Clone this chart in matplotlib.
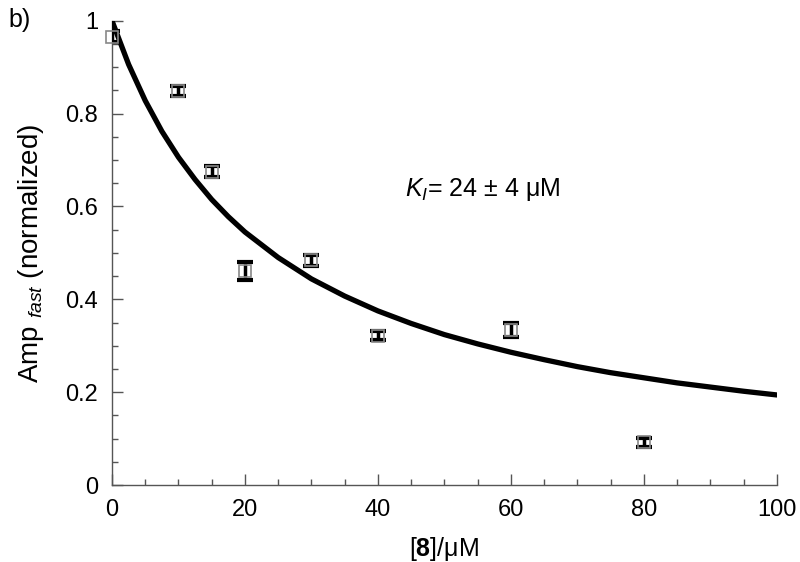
#!/usr/bin/env python3

import matplotlib
matplotlib.use("Agg")
import matplotlib.pyplot as plt
from matplotlib.ticker import MultipleLocator

plt.rcParams['font.family'] = ['Liberation Sans', 'DejaVu Sans']
plt.rcParams['mathtext.fontset'] = 'custom'
plt.rcParams['mathtext.rm'] = 'Liberation Sans'
plt.rcParams['mathtext.it'] = 'Liberation Sans:italic'
plt.rcParams['mathtext.bf'] = 'Liberation Sans:bold'

# measured points
conc = [0, 10, 15, 20, 30, 40, 60, 80]
amp = [0.966, 0.849, 0.675, 0.461, 0.484, 0.322, 0.334, 0.092]
amp_err = [0.012, 0.010, 0.012, 0.020, 0.012, 0.010, 0.015, 0.010]

# fitted curve
fit_x = [0, 2.5, 5, 7.5, 10, 12.5, 15, 17.5, 20, 25, 30, 35, 40, 45, 50,
         55, 60, 65, 70, 75, 80, 85, 90, 95, 100]
fit_y = [1.000, 0.906, 0.828, 0.762, 0.706, 0.658, 0.615, 0.578, 0.545,
         0.490, 0.444, 0.407, 0.375, 0.348, 0.324, 0.304, 0.286, 0.270,
         0.255, 0.242, 0.231, 0.220, 0.211, 0.202, 0.194]

x_ticks = [0, 20, 40, 60, 80, 100]
y_ticks = [0, 0.2, 0.4, 0.6, 0.8, 1]
y_tick_labels = ['0', '0.2', '0.4', '0.6', '0.8', '1']

fig = plt.figure(figsize=(8, 5.62), dpi=100)
ax = fig.add_axes([0.14, 0.137, 0.831, 0.826])

ax.plot(fit_x, fit_y, color='black', lw=3.8, zorder=3, solid_capstyle='round')
ax.errorbar(conc, amp, yerr=amp_err, fmt='none', ecolor='black',
            elinewidth=2.5, capsize=5.5, capthick=3, zorder=4)
ax.plot(conc, amp, 's', ms=9, mfc='none', mec='#888888', mew=1.2,
        zorder=4, clip_on=False)

ax.set_xlim(0, 100)
ax.set_ylim(0, 1)
ax.set_xticks(x_ticks)
ax.set_yticks(y_ticks)
ax.set_yticklabels(y_tick_labels)
ax.xaxis.set_minor_locator(MultipleLocator(5))
ax.yaxis.set_minor_locator(MultipleLocator(0.05))

for side in ['top', 'right']:
    ax.spines[side].set_visible(False)
for side in ['left', 'bottom']:
    ax.spines[side].set_color('#555555')
    ax.spines[side].set_linewidth(1)

ax.tick_params(which='major', direction='in', length=8, width=1,
               color='#555555', labelsize=17, pad=10)
ax.tick_params(which='minor', direction='in', length=4, width=1,
               color='#555555')

ax.set_xlabel('[$\\mathbf{8}$]/μM', fontsize=18, labelpad=10)
ax.set_ylabel('Amp $_{\\it{fast}}$ (normalized)', fontsize=20, labelpad=14)

ax.text(44.0, 0.636, '$K_{I}$= 24 ± 4 μM', fontsize=18, va='center')
fig.text(0.01, 0.965, 'b)', fontsize=18, va='center')

plt.savefig('out.png', dpi=100)
